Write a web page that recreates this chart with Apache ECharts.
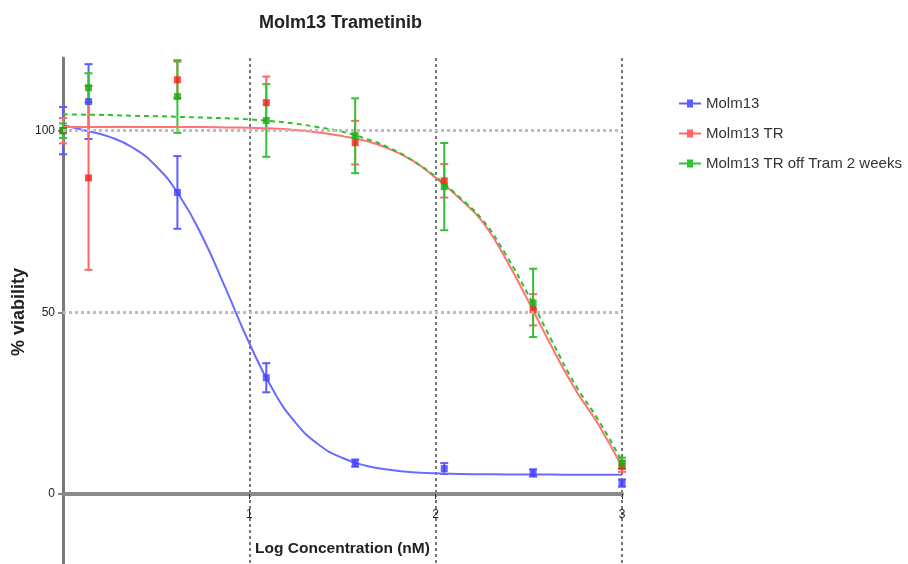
<!DOCTYPE html>
<html>
<head>
<meta charset="utf-8">
<script src="https://cdn.jsdelivr.net/npm/echarts@6/dist/echarts.min.js"></script>
<style>
  html, body { margin: 0; padding: 0; background: #fff; }
  #main { width: 908px; height: 564px; }
</style>
</head>
<body>
<div id="main"></div>
<script>
// log concentration of each measured dose
var logDose = [0, 0.137, 0.614, 1.091, 1.568, 2.046, 2.523, 3];

// mean % viability and error
var molm13 = [100, 108, 83, 32, 8.5, 7, 5.8, 3];
var molm13Err = [6.5, 10.3, 10, 4, 1, 1.5, 1, 1];
var molm13TR = [100, 87, 114, 107.7, 96.7, 86.2, 50.7, 7.6];
var molm13TRErr = [3.5, 25.3, 5, 7.2, 6, 4.6, 4.3, 1.5];
var molm13Off = [100, 111.8, 109.4, 102.8, 98.6, 84.6, 52.6, 8.5];
var molm13OffErr = [2, 4, 10, 10, 10.3, 12, 9.4, 1.5];

// fitted curves as drawn in the figure, sampled every 0.125 log units
var curveX = [0, 0.125, 0.25, 0.375, 0.5, 0.625, 0.75, 0.875, 1, 1.125, 1.25, 1.375, 1.5,
              1.625, 1.75, 1.875, 2, 2.125, 2.25, 2.375, 2.5, 2.625, 2.75, 2.875, 3];
var curveMolm13 = [101.5, 100, 98.3, 95.3, 90.2, 82.1, 70.6, 56.3, 41.5, 28.8, 19.5, 13.5, 9.9,
                   7.8, 6.7, 6.0, 5.7, 5.5, 5.45, 5.4, 5.35, 5.35, 5.3, 5.3, 5.3];
var curveTR = [101, 101, 101, 101, 101, 101, 101, 100.9, 100.8, 100.6, 100.2, 99.5, 98.5,
               97.2, 95, 91.8, 87, 81.5, 75, 64.8, 52.8, 40.3, 28.7, 19, 7.5];
var curveOff = [104.5, 104.4, 104.3, 104.1, 104, 103.8, 103.6, 103.4, 103.1, 102.6, 101.9, 100.9, 99.7,
                97.8, 95.3, 91.8, 87.3, 81.8, 75.5, 66, 54.5, 42, 30, 20.2, 9];

var yTicks = [0, 50, 100];
var xTicks = [1, 2, 3];
var names = ['Molm13', 'Molm13 TR', 'Molm13 TR off Tram 2 weeks'];

var chart = echarts.init(document.getElementById('main'));

function zip(xs, ys) {
  return xs.map(function (x, i) { return [x, ys[i]]; });
}
function zipErr(xs, ys, es) {
  return xs.map(function (x, i) { return [x, ys[i], es[i]]; });
}

function errorSeries(name, data, color) {
  return {
    name: name,
    type: 'custom',
    itemStyle: { color: color },
    z: 2,
    renderItem: function (params, api) {
      var x = api.value(0), y = api.value(1), e = api.value(2);
      var top = api.coord([x, y + e]);
      var bot = api.coord([x, y - e]);
      var hw = 4;
      var st = { stroke: color, lineWidth: 2 };
      return {
        type: 'group',
        children: [
          { type: 'line', shape: { x1: top[0], y1: top[1], x2: bot[0], y2: bot[1] }, style: st },
          { type: 'line', shape: { x1: top[0] - hw, y1: top[1], x2: top[0] + hw, y2: top[1] }, style: st },
          { type: 'line', shape: { x1: bot[0] - hw, y1: bot[1], x2: bot[0] + hw, y2: bot[1] }, style: st }
        ]
      };
    },
    data: data
  };
}

function curveSeries(name, data, color, dashed) {
  return {
    name: name,
    type: 'line',
    smooth: true,
    showSymbol: false,
    symbol: 'none',
    z: 3,
    itemStyle: { color: color },
    lineStyle: { color: color, width: 2, type: dashed ? [5, 4] : 'solid' },
    data: data
  };
}

function pointSeries(name, data, color) {
  return {
    name: name,
    type: 'scatter',
    symbol: 'rect',
    symbolSize: 7,
    z: 4,
    itemStyle: { color: color },
    data: data
  };
}

var legendIcon = 'path://M0,4H8V1H14V4H22V6H14V9H8V6H0Z';
var gridDots = { color: '#777', width: 2, type: [3, 3] };

var option = {
  animation: false,
  title: {
    text: 'Molm13 Trametinib',
    left: 254,
    top: 9,
    textStyle: { fontFamily: 'Liberation Sans', fontSize: 18, fontWeight: 'bold', color: '#222' }
  },
  legend: {
    orient: 'vertical',
    left: 674,
    top: 91,
    itemWidth: 22,
    itemHeight: 9,
    itemGap: 15,
    textStyle: { fontFamily: 'Liberation Sans', fontSize: 15, color: '#333' },
    data: names.map(function (n) { return { name: n, icon: legendIcon }; })
  },
  grid: [
    { left: 63, right: 286, top: 58, bottom: 70, outerBoundsMode: 'none' },
    // strip below zero, where the axis and gridlines carry on
    { left: 63, right: 286, top: 494, bottom: 0, outerBoundsMode: 'none' }
  ],
  xAxis: [
    {
      type: 'value',
      gridIndex: 0,
      min: 0,
      max: 3,
      interval: 1,
      name: 'Log Concentration (nM)',
      nameLocation: 'middle',
      nameGap: 47,
      nameMoveOverlap: false,
      nameTextStyle: { fontFamily: 'Liberation Sans', fontSize: 15.5, fontWeight: 'bold', color: '#222' },
      axisLine: { lineStyle: { color: '#8a8a8a', width: 4 } },
      axisTick: { show: true, length: 5, customValues: xTicks, lineStyle: { color: '#333', width: 1 } },
      axisLabel: {
        margin: 15,
        customValues: xTicks,
        fontFamily: 'Liberation Sans',
        fontSize: 12,
        color: '#222'
      },
      splitLine: { show: true, lineStyle: gridDots }
    },
    {
      type: 'value',
      gridIndex: 1,
      min: 0,
      max: 3,
      interval: 1,
      axisLine: { show: false },
      axisTick: { show: false },
      axisLabel: { show: false },
      splitLine: { show: true, lineStyle: gridDots }
    }
  ],
  yAxis: [
    {
      type: 'value',
      gridIndex: 0,
      min: 0,
      max: 120,
      interval: 10,
      name: '% viability',
      nameLocation: 'middle',
      nameGap: 35,
      nameMoveOverlap: false,
      nameRotate: 90,
      nameTextStyle: {
        fontFamily: 'Liberation Sans', fontSize: 18, fontWeight: 'bold', color: '#222',
        padding: [0, 72, 0, 0]
      },
      axisLine: { show: true, lineStyle: { color: '#7a7a7a', width: 3 } },
      axisTick: { show: true, length: 5, customValues: yTicks, lineStyle: { color: '#888', width: 2 } },
      axisLabel: {
        margin: 8,
        customValues: yTicks,
        fontFamily: 'Liberation Sans',
        fontSize: 12,
        color: '#222'
      },
      splitLine: { show: false }
    },
    {
      type: 'value',
      gridIndex: 1,
      min: 0,
      max: 1,
      axisLine: { show: true, lineStyle: { color: '#7a7a7a', width: 3 } },
      axisTick: { show: false },
      axisLabel: { show: false },
      splitLine: { show: false }
    }
  ],
  series: [
    {
      name: 'grid',
      type: 'line',
      data: [],
      silent: true,
      markLine: {
        silent: true,
        symbol: 'none',
        label: { show: false },
        lineStyle: { color: '#bdbdbd', width: 3, type: [3, 3] },
        data: yTicks.filter(function (v) { return v > 0; }).map(function (v) { return { yAxis: v }; })
      }
    },
    errorSeries(names[0], zipErr(logDose, molm13, molm13Err), '#5c5cff'),
    errorSeries(names[1], zipErr(logDose, molm13TR, molm13TRErr), '#ff6666'),
    errorSeries(names[2], zipErr(logDose, molm13Off, molm13OffErr), '#33c233'),
    curveSeries(names[0], zip(curveX, curveMolm13), '#6b6bff', false),
    curveSeries(names[1], zip(curveX, curveTR), '#ff7373', false),
    curveSeries(names[2], zip(curveX, curveOff), '#2fbf2f', true),
    pointSeries(names[0], zip(logDose, molm13), '#4040ff'),
    pointSeries(names[1], zip(logDose, molm13TR), '#ff1a1a'),
    pointSeries(names[2], zip(logDose, molm13Off), '#10b010')
  ]
};

chart.setOption(option);
</script>
</body>
</html>
